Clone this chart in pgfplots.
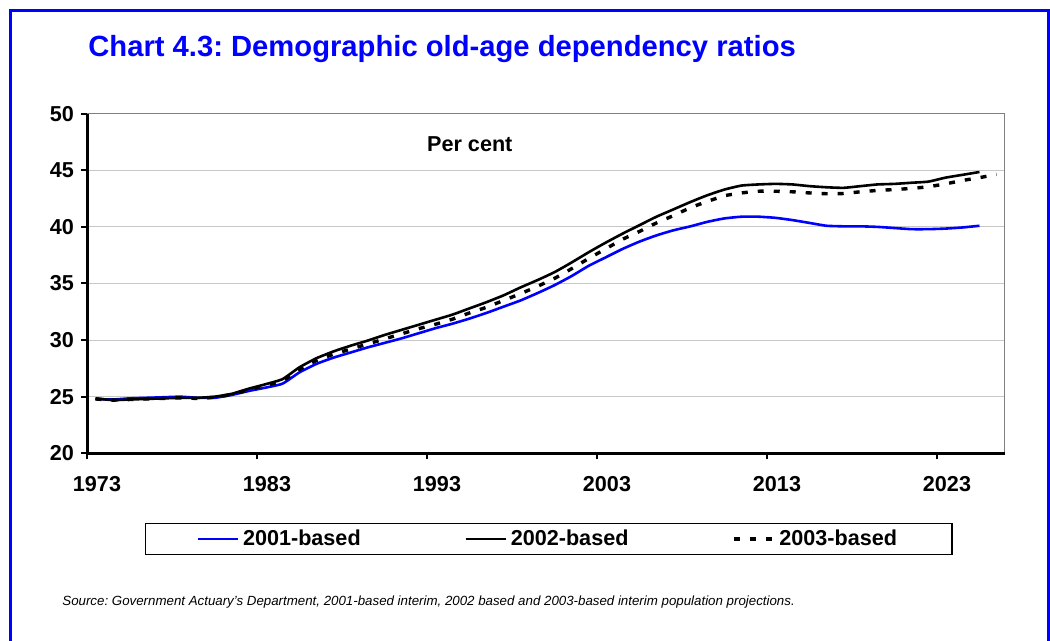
\documentclass[border=0pt]{standalone}
\usepackage{fontspec}
\setmainfont{Liberation Sans}
\usepackage{pgfplots}
\pgfplotsset{compat=1.18}
\usepackage{pgfplotstable}
\frenchspacing

\definecolor{chartblue}{RGB}{0,0,255}
\definecolor{gridgray}{RGB}{200,200,200}
\definecolor{framegray}{RGB}{128,128,128}

% Old-age dependency ratios (per cent), by projection basis
\pgfplotstableread{
year  b2001  b2002  b2003
1973  24.80  24.85  24.80
1974  24.75  24.70  24.70
1975  24.85  24.75  24.75
1976  24.90  24.80  24.80
1977  24.95  24.85  24.85
1978  25.00  24.90  24.90
1979  24.90  24.90  24.85
1980  24.90  25.00  24.95
1981  25.15  25.25  25.20
1982  25.50  25.70  25.60
1983  25.80  26.10  26.00
1984  26.15  26.55  26.40
1985  27.15  27.60  27.40
1986  27.90  28.40  28.20
1987  28.45  29.00  28.75
1988  28.90  29.50  29.20
1989  29.35  29.95  29.65
1990  29.75  30.45  30.10
1991  30.15  30.90  30.55
1992  30.60  31.35  31.00
1993  31.05  31.80  31.40
1994  31.45  32.25  31.85
1995  31.90  32.80  32.40
1996  32.40  33.35  32.90
1997  32.95  33.95  33.50
1998  33.50  34.65  34.10
1999  34.15  35.30  34.75
2000  34.85  36.00  35.45
2001  35.65  36.85  36.30
2002  36.55  37.75  37.20
2003  37.30  38.60  38.05
2004  38.05  39.40  38.90
2005  38.70  40.15  39.60
2006  39.25  40.90  40.35
2007  39.70  41.55  41.00
2008  40.05  42.20  41.70
2009  40.45  42.80  42.25
2010  40.75  43.30  42.75
2011  40.90  43.65  43.00
2012  40.90  43.75  43.15
2013  40.80  43.80  43.15
2014  40.60  43.75  43.10
2015  40.35  43.60  43.00
2016  40.10  43.50  42.93
2017  40.05  43.45  42.95
2018  40.05  43.60  43.10
2019  40.00  43.75  43.22
2020  39.90  43.80  43.30
2021  39.80  43.90  43.40
2022  39.80  44.00  43.55
2023  39.85  44.35  43.80
2024  39.95  44.60  44.10
2025  40.10  44.85  44.35
2026  nan    nan    44.64
}\ratios

\begin{document}
\begin{tikzpicture}
\useasboundingbox (0pt,0pt) rectangle (525pt,320.5pt);
% outer frame
\draw[chartblue, line width=1.4pt] (5.2pt,-10pt) rectangle (524.2pt,315.15pt);
% title
\node[anchor=base west, inner sep=0, text=chartblue,
      font=\bfseries\fontsize{14.6}{17}\selectfont] at (44pt,292.15pt)
     {Chart 4.3: Demographic old-age dependency ratios};

\begin{axis}[
  name=ax,
  at={(43.5pt,93.85pt)}, anchor=south west,
  width=459pt, height=169.8pt, scale only axis,
  xmin=1972.5, xmax=2026.5, ymin=20, ymax=50,
  xtick={1972.5,1982.5,1992.5,2002.5,2012.5,2022.5},
  xticklabels={1973,1983,1993,2003,2013,2023},
  ytick={20,25,30,35,40,45,50},
  tick align=outside, tick pos=left,
  major tick length=3pt,
  tick style={black, line width=1pt},
  ymajorgrids, grid style={gridgray, line width=0.5pt},
  axis line style={framegray, line width=0.5pt},
  ticklabel style={font=\bfseries\fontsize{10.8}{12}\selectfont},
  /pgf/number format/assume math mode=true,
  xticklabel style={xshift=5pt, yshift=-5pt},
  clip mode=individual,
  legend columns=3,
  legend image code/.code={\draw[#1] (0pt,0pt) -- (20pt,0pt);},
  legend style={at={(0.503,-0.252)}, anchor=center, draw=black,
    line width=0.6pt, fill=white,
    font=\bfseries\fontsize{10.8}{12}\selectfont,
    inner xsep=25.5pt, inner ysep=1.2pt,
    nodes={inner sep=2pt},
    /tikz/every even column/.append style={column sep=49.75pt}},
]
\addplot[chartblue, line width=1.3pt, smooth, tension=0.3]
  table[x=year, y=b2001] {\ratios};
\addplot[black, line width=1.3pt, smooth, tension=0.3]
  table[x=year, y=b2002] {\ratios};
\addplot[black, line width=1.7pt, dash pattern=on 3pt off 5pt, smooth, tension=0.3]
  table[x=year, y=b2003] {\ratios};
\legend{2001-based,2002-based,2003-based}
\node[anchor=base, font=\bfseries\fontsize{10.8}{12}\selectfont]
  at (rel axis cs:0.417,0.89) {Per cent};
\end{axis}
% heavy left and bottom axis lines
\draw[black, line width=1.5pt] (ax.north west) -- (ax.south west) -- (ax.south east);

\node[anchor=base west, inner sep=0, font=\itshape\fontsize{6.65}{8}\selectfont]
  at (31pt,17.5pt)
  {Source: Government Actuary's Department, 2001-based interim, 2002 based and 2003-based interim population projections.};
\end{tikzpicture}
\end{document}
